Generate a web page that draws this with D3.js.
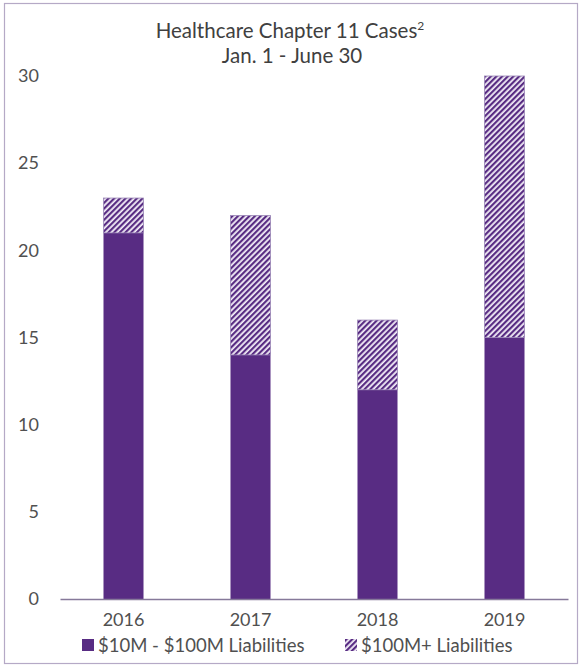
<!DOCTYPE html>
<html lang="en">
<head>
<meta charset="UTF-8">
<title>Healthcare Chapter 11 Cases</title>
<script src="https://d3js.org/d3.v7.min.js"></script>
<style>
  body { margin: 0; background: #fff; }
  svg text { font-family: Lato, "Open Sans", sans-serif; }
</style>
</head>
<body>
<svg width="581" height="666"></svg>
<script>
// data
const years = ["2016", "2017", "2018", "2019"];
const midSize = [21, 14, 12, 15];   // $10M - $100M liabilities
const bigSize = [2, 8, 4, 15];      // $100M+ liabilities
const yTicks = [0, 5, 10, 15, 20, 25, 30];
const seriesNames = ["$10M - $100M Liabilities", "$100M+ Liabilities"];

const purple = "#582c83";
const textGrey = "#505050";

const svg = d3.select("svg");

// hatch pattern for the $100M+ series
const defs = svg.append("defs");
const pat = defs.append("pattern")
    .attr("id", "hatch")
    .attr("patternUnits", "userSpaceOnUse")
    .attr("width", 4).attr("height", 4)
    .attr("patternTransform", "rotate(45)");
pat.append("rect").attr("width", 4).attr("height", 4).attr("fill", "#f3eef8");
pat.append("rect").attr("width", 2.2).attr("height", 4).attr("fill", purple);

// outer frame
svg.append("rect")
    .attr("x", 4.5).attr("y", 3.5)
    .attr("width", 573).attr("height", 660)
    .attr("fill", "none")
    .attr("stroke", "#b5a9c6")
    .attr("stroke-width", 1.2);

// title
const title = svg.append("text")
    .attr("x", 290).attr("y", 38)
    .attr("text-anchor", "middle")
    .attr("font-size", 20.5)
    .attr("fill", "#404040");
title.append("tspan").text("Healthcare Chapter 11 Cases");
title.append("tspan").attr("font-size", 12).attr("dy", -8).text("2");

svg.append("text")
    .attr("x", 292).attr("y", 63)
    .attr("text-anchor", "middle")
    .attr("font-size", 20.5)
    .attr("fill", "#404040")
    .text("Jan. 1 - June 30");

const x = d3.scaleBand()
    .domain(years)
    .range([60, 568])
    .paddingInner(0.685)
    .paddingOuter(0.3425);

const y = d3.scaleLinear()
    .domain([0, 30])
    .range([599, 76]);

// stacked bars
const rows = years.map((yr, i) => ({ year: yr, mid: midSize[i], big: bigSize[i] }));
const stack = d3.stack().keys(["mid", "big"])(rows);

const g = svg.append("g");
g.selectAll("g.series")
  .data(stack)
  .enter().append("g")
    .attr("class", "series")
    .attr("fill", (d, i) => i === 0 ? purple : "url(#hatch)")
    .attr("stroke", (d, i) => i === 0 ? "none" : "#9a86b6")
    .attr("stroke-width", 0.8)
  .selectAll("rect")
  .data(d => d)
  .enter().append("rect")
    .attr("x", d => x(d.data.year))
    .attr("y", d => y(d[1]))
    .attr("width", x.bandwidth())
    .attr("height", d => y(d[0]) - y(d[1]));

// y axis labels (no line, no gridlines)
const yAxis = svg.append("g")
    .attr("transform", "translate(39,0)")
    .call(d3.axisLeft(y).tickValues(yTicks).tickSize(0).tickPadding(0));
yAxis.select(".domain").remove();
yAxis.selectAll("text")
    .attr("font-size", 18)
    .attr("fill", textGrey)
    .style("font-family", "Lato, sans-serif");

// x axis
const xAxis = svg.append("g")
    .attr("transform", "translate(0,599)")
    .call(d3.axisBottom(x).tickSize(0).tickPadding(14));
xAxis.select(".domain")
    .attr("stroke", "#86799a")
    .attr("stroke-width", 1.5);
xAxis.selectAll("text")
    .attr("font-size", 18)
    .attr("fill", textGrey)
    .style("font-family", "Lato, sans-serif");

// legend
const legendX = [82, 345];
const legend = svg.append("g");
seriesNames.forEach((name, i) => {
  legend.append("rect")
      .attr("x", legendX[i]).attr("y", 639)
      .attr("width", 12).attr("height", 12)
      .attr("fill", i === 0 ? purple : "url(#hatch)");
  legend.append("text")
      .attr("x", legendX[i] + 16).attr("y", 652)
      .attr("font-size", 18.5)
      .attr("fill", textGrey)
      .text(name);
});
</script>
</body>
</html>
